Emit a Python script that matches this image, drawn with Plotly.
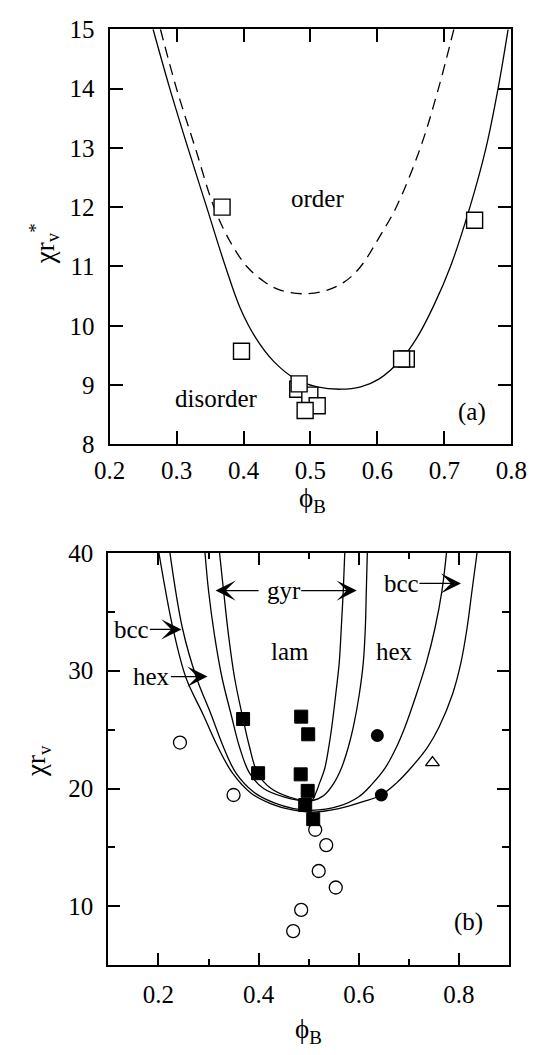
import plotly.graph_objects as go

# ---------------- Panel (a) data ----------------
a_sq_x = [0.368, 0.745, 0.397, 0.643, 0.636, 0.481, 0.499, 0.51, 0.483, 0.492]
a_sq_y = [12.0, 11.78, 9.57, 9.44, 9.44, 8.93, 8.83, 8.65, 9.02, 8.57]

a_solid_x = [0.265, 0.290, 0.317, 0.345, 0.373, 0.395, 0.418, 0.445, 0.478, 0.510, 0.545,
             0.575, 0.602, 0.636, 0.659, 0.684, 0.709, 0.738, 0.762, 0.780, 0.795]
a_solid_y = [15.0, 14.0, 13.0, 12.0, 11.0, 10.3, 9.8, 9.4, 9.1, 8.97, 8.93,
             8.97, 9.1, 9.44, 9.8, 10.34, 11.0, 12.0, 13.0, 14.0, 15.0]

a_dash_x = [0.276, 0.300, 0.328, 0.356, 0.381, 0.405, 0.430, 0.455, 0.489,
            0.525, 0.552, 0.575, 0.603, 0.628, 0.664, 0.691, 0.714]
a_dash_y = [15.0, 14.0, 13.0, 12.0, 11.4, 11.0, 10.75, 10.6, 10.54,
            10.6, 10.75, 11.0, 11.5, 12.0, 13.0, 14.0, 15.0]

# ---------------- Panel (b) data ----------------
b_fsq_x = [0.369, 0.399, 0.485, 0.499, 0.484, 0.498, 0.493, 0.509]
b_fsq_y = [25.9, 21.3, 26.1, 24.6, 21.2, 19.8, 18.6, 17.4]

b_fci_x = [0.637, 0.645]
b_fci_y = [24.5, 19.45]

b_tri_x = [0.747]
b_tri_y = [22.2]

b_oci_x = [0.243, 0.350, 0.513, 0.535, 0.520, 0.554, 0.485, 0.469]
b_oci_y = [23.9, 19.45, 16.5, 15.2, 13.0, 11.6, 9.7, 7.9]

# phase boundaries (left top -> bottom -> right top)
odt_x = [0.201, 0.229, 0.255, 0.289, 0.319, 0.348, 0.385, 0.425, 0.465, 0.505,
         0.560, 0.610, 0.645, 0.676, 0.703, 0.737, 0.760, 0.787, 0.804, 0.816, 0.826, 0.836]
odt_y = [40.0, 33.6, 29.4, 26.3, 23.5, 21.3, 19.6, 18.7, 18.2, 18.0,
         18.3, 18.9, 19.45, 20.5, 21.7, 23.5, 25.2, 28.0, 30.7, 33.6, 36.8, 40.0]

bcchex_x = [0.223, 0.248, 0.276, 0.305, 0.330, 0.355, 0.390, 0.430, 0.470, 0.505,
            0.560, 0.600, 0.626, 0.652, 0.675, 0.692, 0.715, 0.735, 0.752, 0.766, 0.775]
bcchex_y = [40.0, 33.6, 29.4, 26.3, 23.5, 21.3, 19.7, 18.8, 18.3, 18.15,
            18.5, 19.3, 20.35, 21.7, 23.5, 25.2, 28.0, 30.7, 33.6, 36.8, 40.0]

hexgyr_x = [0.293, 0.300, 0.312, 0.327, 0.345, 0.362, 0.382, 0.410, 0.450, 0.505,
            0.530, 0.548, 0.565, 0.579, 0.589, 0.601, 0.609, 0.613, 0.615, 0.617]
hexgyr_y = [40.0, 36.8, 33.0, 29.4, 26.3, 23.5, 21.3, 20.0, 19.3, 18.95,
            19.4, 20.3, 21.7, 23.5, 25.2, 28.0, 30.7, 33.6, 36.8, 40.0]

gyrlam_x = [0.322, 0.330, 0.340, 0.352, 0.369, 0.382, 0.398, 0.425, 0.460, 0.505,
            0.514, 0.522, 0.532, 0.540, 0.546, 0.554, 0.561, 0.565, 0.569, 0.572]
gyrlam_y = [40.0, 36.8, 33.0, 29.4, 25.9, 23.5, 21.3, 20.0, 19.3, 18.95,
            19.6, 20.5, 21.7, 23.5, 25.2, 28.0, 30.7, 33.6, 36.8, 40.0]

FONT = "Liberation Serif, Times New Roman, serif"
BLACK = "black"

fig = go.Figure()

# Panel (a)
fig.add_trace(go.Scatter(x=a_solid_x, y=a_solid_y, mode="lines", line=dict(color=BLACK, width=1.3, shape="spline"),
                         xaxis="x", yaxis="y", hoverinfo="skip"))
fig.add_trace(go.Scatter(x=a_dash_x, y=a_dash_y, mode="lines",
                         line=dict(color=BLACK, width=1.3, shape="spline", dash="11px,7px"),
                         xaxis="x", yaxis="y", hoverinfo="skip"))
fig.add_trace(go.Scatter(x=a_sq_x, y=a_sq_y, mode="markers",
                         marker=dict(symbol="square", size=16, color="white", line=dict(color=BLACK, width=1.4)),
                         xaxis="x", yaxis="y"))

# Panel (b)
for cx, cy in [(odt_x, odt_y), (bcchex_x, bcchex_y), (hexgyr_x, hexgyr_y), (gyrlam_x, gyrlam_y)]:
    fig.add_trace(go.Scatter(x=cx, y=cy, mode="lines", line=dict(color=BLACK, width=1.3, shape="spline"),
                             xaxis="x2", yaxis="y2", hoverinfo="skip"))
fig.add_trace(go.Scatter(x=b_oci_x, y=b_oci_y, mode="markers",
                         marker=dict(symbol="circle", size=13, color="white", line=dict(color=BLACK, width=1.3)),
                         xaxis="x2", yaxis="y2"))
fig.add_trace(go.Scatter(x=b_fsq_x, y=b_fsq_y, mode="markers",
                         marker=dict(symbol="square", size=13, color=BLACK, line=dict(color=BLACK, width=1)),
                         xaxis="x2", yaxis="y2"))
fig.add_trace(go.Scatter(x=b_fci_x, y=b_fci_y, mode="markers",
                         marker=dict(symbol="circle", size=13, color=BLACK),
                         xaxis="x2", yaxis="y2"))
fig.add_trace(go.Scatter(x=b_tri_x, y=b_tri_y, mode="markers",
                         marker=dict(symbol="triangle-up", size=12, color="white", line=dict(color=BLACK, width=1.3)),
                         xaxis="x2", yaxis="y2"))

tickfont = dict(family=FONT, size=25, color=BLACK)
common = dict(showline=True, linecolor=BLACK, linewidth=2, mirror="allticks", ticks="inside",
              tickcolor=BLACK, tickwidth=2, showgrid=False, zeroline=False, tickfont=tickfont)

fig.update_layout(
    width=551, height=1055,
    margin=dict(l=0, r=0, t=0, b=0),
    paper_bgcolor="white", plot_bgcolor="white",
    showlegend=False,
    xaxis=dict(domain=[99.3/551, 526/551], range=[0.2, 0.8], tickvals=[0.2, 0.3, 0.4, 0.5, 0.6, 0.7, 0.8],
               ticktext=["0.2", "0.3", "0.4", "0.5", "0.6", "0.7", "0.8"], ticklen=13, anchor="y",
               ticklabelstandoff=3, **common),
    yaxis=dict(domain=[1-442.7/1055, 1-16.7/1055], range=[8, 15], tickvals=list(range(8, 16)),
               ticklen=13, anchor="x", ticklabelstandoff=8, **common),
    xaxis2=dict(domain=[98/551, 523.5/551], range=[0.1, 0.9], tickvals=[0.2, 0.4, 0.6, 0.8],
                ticktext=["0.2", "0.4", "0.6", "0.8"], ticklen=12, anchor="y2", ticklabelstandoff=6,
                minor=dict(tickvals=[0.3, 0.5, 0.7], ticklen=6, tickwidth=2, tickcolor=BLACK, ticks="inside"),
                **common),
    yaxis2=dict(domain=[1-977.3/1055, 1-554/1055], range=[5, 40], tickvals=[10, 20, 30, 40],
                ticklen=12, anchor="x2", ticklabelstandoff=8,
                minor=dict(tickvals=[15, 25, 35], ticklen=7, tickwidth=2, tickcolor=BLACK, ticks="inside"),
                **common),
)

txt = dict(family=FONT, size=25, color=BLACK)
ann = []
# panel (a) text
for t, x, y in [("order", 0.511, 12.14), ("disorder", 0.36, 8.77), ("(a)", 0.741, 8.55)]:
    ann.append(dict(text=t, x=x, y=y, xref="x", yref="y", showarrow=False, font=txt,
                    xanchor="center", yanchor="middle"))
# panel (b) plain text
for t, x, y in [("lam", 0.463, 31.65), ("hex", 0.671, 31.65), ("(b)", 0.818, 8.65)]:
    ann.append(dict(text=t, x=x, y=y, xref="x2", yref="y2", showarrow=False, font=txt,
                    xanchor="center", yanchor="middle"))
# panel (b) labels with arrows: label centred at (ax, ay), arrow tip at (x, y)
arrow_style = dict(showarrow=True, arrowhead=3, arrowsize=2.6, arrowwidth=1.3, arrowcolor=BLACK,
                   standoff=0, startstandoff=0, borderpad=0, xref="x2", yref="y2", axref="x2", ayref="y2")
for t, tx, tipx, y in [("gyr", 0.45, 0.596, 36.8), ("bcc", 0.685, 0.804, 37.4),
                       ("bcc", 0.147, 0.246, 33.5), ("hex", 0.187, 0.298, 29.5)]:
    ann.append(dict(text=t, x=tipx, y=y, ax=tx, ay=y, font=txt, **arrow_style))
# left arrow of "gyr"
ann.append(dict(text="", x=0.314, y=36.8, ax=0.401, ay=36.8, **arrow_style))
# axis titles
title_font = dict(family=FONT, size=27, color=BLACK)
ann.append(dict(text="χr<sub>v</sub><sup>*</sup>", x=30/551, y=1-237/1055, xref="paper", yref="paper",
                textangle=-90, showarrow=False, font=title_font, xanchor="center", yanchor="middle"))
ann.append(dict(text="χr<sub>v</sub>", x=24/551, y=1-768/1055, xref="paper", yref="paper",
                textangle=-90, showarrow=False, font=title_font, xanchor="center", yanchor="middle"))
ann.append(dict(text="ϕ<sub>B</sub>", x=315/551, y=1-500/1055, xref="paper", yref="paper",
                showarrow=False, font=title_font, xanchor="center", yanchor="middle"))
ann.append(dict(text="ϕ<sub>B</sub>", x=311/551, y=1-1045/1055, xref="paper", yref="paper",
                showarrow=False, font=title_font, xanchor="center", yanchor="middle"))
fig.update_layout(annotations=ann)

fig.write_html("out.html")
